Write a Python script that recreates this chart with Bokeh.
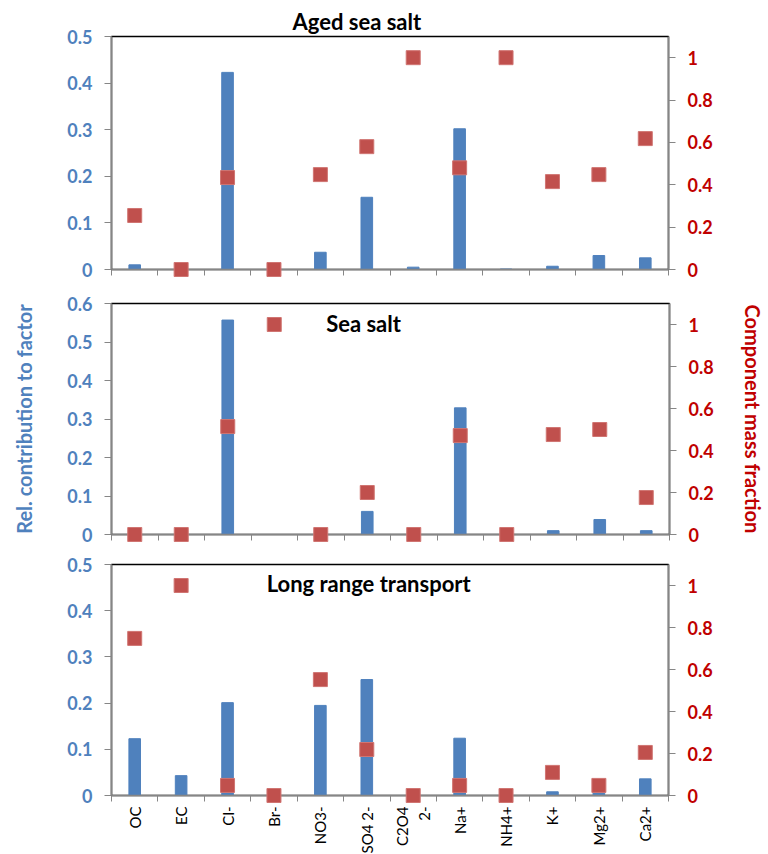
import math
from bokeh.plotting import figure
from bokeh.layouts import column
from bokeh.models import Range1d, LinearAxis, FixedTicker, CustomJSTickFormatter, Label
from bokeh.embed import file_html
from bokeh.resources import INLINE

# species on the x axis (shared by the three factors)
species = ["OC", "EC", "Cl-", "Br-", "NO3-", "SO4 2-", "C2O4\n2-", "Na+", "NH4+", "K+", "Mg2+", "Ca2+"]

# Aged sea salt
aged_rel = [0.010, 0.0, 0.423, 0.0, 0.037, 0.155, 0.005, 0.302, 0.001, 0.007, 0.030, 0.025]
aged_frac = [0.255, 0.0, 0.434, 0.0, 0.448, 0.580, 1.0, 0.480, 1.0, 0.415, 0.448, 0.618]

# Sea salt
sea_rel = [0.0, 0.0, 0.557, 0.0, 0.0, 0.060, 0.0, 0.329, 0.0, 0.010, 0.039, 0.010]
sea_frac = [0.0, 0.0, 0.514, 1.0, 0.0, 0.200, 0.0, 0.471, 0.0, 0.476, 0.500, 0.176]

# Long range transport
lrt_rel = [0.123, 0.043, 0.201, 0.0, 0.195, 0.251, 0.0, 0.124, 0.0, 0.008, 0.007, 0.036]
lrt_frac = [0.748, 1.0, 0.048, 0.0, 0.552, 0.219, 0.0, 0.048, 0.0, 0.110, 0.048, 0.205]

FONT = "Lato"
BLUE = "#4F81BD"
RED = "#C0504D"
DARKRED = "#C00000"
AXIS = "#868686"

xs = [i + 0.5 for i in range(len(species))]
bounds = list(range(len(species) + 1))

num_fmt = CustomJSTickFormatter(code="return String(Math.round(tick*10)/10)")


def make_panel(rel, frac, ymax, fw, fh, top, bottom, left, right, bottom_labels=False):
    p = figure(frame_width=fw, frame_height=fh,
               x_range=Range1d(0, len(species)), y_range=Range1d(0, ymax),
               output_backend="svg", toolbar_location=None,
               min_border_left=left, min_border_right=right,
               min_border_top=top, min_border_bottom=bottom)
    p.xgrid.grid_line_color = None
    p.ygrid.grid_line_color = None
    p.outline_line_color = "black"
    p.outline_line_width = 1.5
    p.extra_y_ranges = {"mf": Range1d(0, 1.1)}

    # bars: relative contribution
    p.vbar(x=xs, top=rel, width=0.25, fill_color=BLUE, line_color=BLUE)
    # squares: component mass fraction
    sq = p.scatter(x=xs, y=frac, marker="square", size=14, fill_color=RED, line_color="#D07572",
                   line_width=1, y_range_name="mf")
    sq.level = "overlay"

    # left axis
    ya = p.yaxis[0]
    ya.ticker = FixedTicker(ticks=[round(0.1 * i, 1) for i in range(int(round(ymax * 10)) + 1)])
    ya.formatter = num_fmt
    ya.major_label_text_color = BLUE
    ya.major_label_text_font = FONT
    ya.major_label_text_font_style = "bold"
    ya.major_label_text_font_size = "18px"
    ya.major_label_standoff = 12
    ya.major_tick_in = 0
    ya.major_tick_out = 7
    ya.minor_tick_line_color = None
    ya.axis_line_color = AXIS
    ya.axis_line_width = 1.5
    ya.major_tick_line_color = AXIS

    # right axis
    ra = LinearAxis(y_range_name="mf", ticker=FixedTicker(ticks=[0, 0.2, 0.4, 0.6, 0.8, 1.0]),
                    formatter=num_fmt)
    ra.major_label_text_color = DARKRED
    ra.major_label_text_font = FONT
    ra.major_label_text_font_style = "bold"
    ra.major_label_text_font_size = "18px"
    ra.major_label_standoff = 12
    ra.major_tick_in = 0
    ra.major_tick_out = 7
    ra.minor_tick_line_color = None
    ra.axis_line_color = AXIS
    ra.axis_line_width = 1.5
    ra.major_tick_line_color = AXIS
    p.add_layout(ra, "right")

    # x axis: separator ticks between the species
    xa = p.xaxis[0]
    xa.axis_line_color = AXIS
    xa.axis_line_width = 1.5
    if bottom_labels:
        xa.ticker = FixedTicker(ticks=xs, minor_ticks=bounds)
        xa.formatter = CustomJSTickFormatter(args=dict(names=species),
                                             code="return names[Math.floor(tick)]")
        xa.major_tick_line_color = None
        xa.minor_tick_in = 0
        xa.minor_tick_out = 6
        xa.minor_tick_line_color = AXIS
        xa.major_label_orientation = math.pi / 2
        xa.major_label_text_font = FONT
        xa.major_label_text_font_size = "15px"
        xa.major_label_text_color = "black"
        xa.major_label_standoff = 5
    else:
        xa.ticker = FixedTicker(ticks=bounds)
        xa.formatter = CustomJSTickFormatter(code="return ''")
        xa.major_tick_in = 0
        xa.major_tick_out = 6
        xa.major_tick_line_color = AXIS
        xa.minor_tick_line_color = None
        xa.major_label_standoff = 0
        xa.major_label_text_font_size = "1px"
    return p, ya, ra


def panel_title(p, x, y, text):
    p.add_layout(Label(x=x, y=y, text=text, text_align="center", text_baseline="middle",
                       text_font=FONT, text_font_size="22px", text_font_style="bold",
                       text_color="black"))


p1, ya1, ra1 = make_panel(aged_rel, aged_frac, 0.5, 557, 233, 36, 20, 105, 104)
p1.title.text = "Aged sea salt"
p1.title.align = "left"
p1.title.offset = 181
p1.title.standoff = 4
p1.title.text_font = FONT
p1.title.text_font_size = "22px"
p1.title.text_font_style = "bold"
p1.title.text_color = "black"

p2, ya2, ra2 = make_panel(sea_rel, sea_frac, 0.6, 558, 231, 14, 16, 107, 101)
ya2.axis_label = "Rel. contribution to factor"
ya2.axis_label_text_color = BLUE
ya2.axis_label_text_font = FONT
ya2.axis_label_text_font_style = "bold"
ya2.axis_label_text_font_size = "20px"
ya2.axis_label_standoff = 28
ra2.axis_label = "Component mass fraction"
ra2.axis_label_text_color = DARKRED
ra2.axis_label_text_font = FONT
ra2.axis_label_text_font_style = "bold"
ra2.axis_label_text_font_size = "20px"
ra2.axis_label_standoff = 24
panel_title(p2, 5.42, 0.548, "Sea salt")

p3, ya3, ra3 = make_panel(lrt_rel, lrt_frac, 0.5, 557, 231, 14, 58, 111, 98, bottom_labels=True)
panel_title(p3, 5.54, 0.459, "Long range transport")

layout = column(p1, p2, p3)
open("out.html", "w").write(file_html(layout, INLINE))
